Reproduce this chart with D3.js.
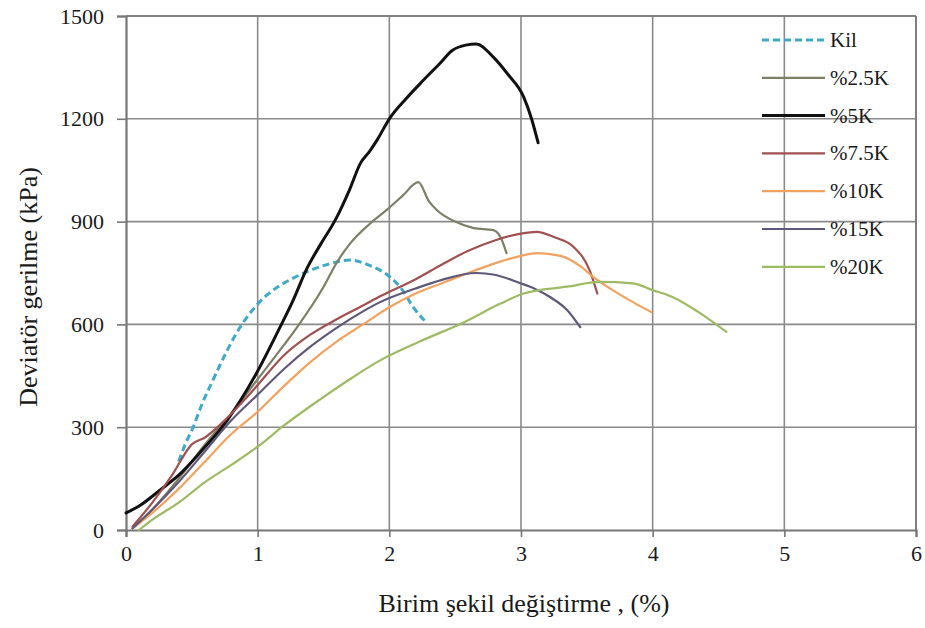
<!DOCTYPE html>
<html>
<head>
<meta charset="utf-8">
<script src="https://cdn.jsdelivr.net/npm/d3@7"></script>
<style>
  body { margin: 0; background: #fff; }
  svg text { font-family: "Liberation Serif", "Times New Roman", Times, serif; fill: #1a1a1a; }
</style>
</head>
<body>
<svg id="chart" width="925" height="628"></svg>
<script>
// strain (%) / deviator stress (kPa)
var kil = [[0.4,200],[0.45,250],[0.51,300],[0.58,370],[0.66,437],[0.75,510],[0.84,575],[0.99,655],[1.1,695],[1.27,735],[1.45,765],[1.6,782],[1.7,788],[1.85,772],[2.0,740],[2.1,700],[2.18,651],[2.27,610]];
var k2_5 = [[0.05,5],[0.2,60],[0.4,150],[0.6,250],[0.8,340],[1.0,440],[1.2,540],[1.3,592],[1.5,709],[1.6,780],[1.7,835],[1.85,893],[1.98,934],[2.1,975],[2.22,1015],[2.3,960],[2.36,934],[2.5,900],[2.64,881],[2.79,875],[2.85,850],[2.89,808]];
var k5 = [[0,50],[0.1,70],[0.26,117],[0.4,160],[0.56,225],[0.77,321],[0.99,457],[1.17,592],[1.27,671],[1.37,760],[1.48,835],[1.59,905],[1.7,995],[1.78,1070],[1.85,1105],[1.91,1140],[2.0,1200],[2.13,1260],[2.26,1313],[2.38,1360],[2.48,1400],[2.58,1415],[2.66,1418],[2.79,1380],[2.9,1330],[3.02,1264],[3.08,1200],[3.13,1130]];
var k7_5 = [[0.05,10],[0.2,80],[0.35,160],[0.5,250],[0.6,270],[0.75,320],[0.9,380],[1.0,423],[1.2,510],[1.4,570],[1.6,615],[1.8,655],[1.93,682],[2.2,732],[2.4,775],[2.6,815],[2.8,845],[3.0,865],[3.12,870],[3.25,855],[3.4,826],[3.52,759],[3.58,690]];
var k10 = [[0.05,5],[0.2,50],[0.4,120],[0.6,200],[0.8,280],[1.0,345],[1.2,420],[1.4,490],[1.6,550],[1.8,600],[2.0,650],[2.2,690],[2.4,720],[2.6,750],[2.8,778],[3.0,800],[3.12,808],[3.3,800],[3.45,770],[3.55,738],[3.73,692],[3.85,665],[3.99,636]];
var k15 = [[0.05,5],[0.2,60],[0.4,140],[0.6,230],[0.8,320],[1.0,395],[1.2,470],[1.4,535],[1.6,590],[1.8,638],[1.93,665],[2.2,705],[2.4,730],[2.66,750],[2.8,745],[2.99,721],[3.1,705],[3.22,680],[3.35,642],[3.45,592]];
var k20 = [[0.1,0],[0.2,30],[0.4,80],[0.6,140],[0.8,190],[1.0,243],[1.2,305],[1.47,380],[1.7,440],[1.93,495],[2.23,550],[2.56,605],[2.84,660],[3.02,690],[3.35,710],[3.6,724],[3.85,720],[4.0,700],[4.15,680],[4.36,633],[4.56,578]];

var seriesNames = ["Kil", "%2.5K", "%5K", "%7.5K", "%10K", "%15K", "%20K"];
var seriesData = [kil, k2_5, k5, k7_5, k10, k15, k20];
var seriesColors = ["#3fa9c9", "#7d7f66", "#111111", "#a0504f", "#f2a25e", "#5f5878", "#9dbb62"];
var seriesWidths = [3, 2.2, 3, 2.2, 2.2, 2.2, 2.2];
var seriesDash = ["7,4", null, null, null, null, null, null];

var xTicks = [0, 1, 2, 3, 4, 5, 6];
var yTicks = [0, 300, 600, 900, 1200, 1500];

var svg = d3.select("#chart");
var margin = {top: 16, right: 9, bottom: 98, left: 126},
    width = +svg.attr("width") - margin.left - margin.right,
    height = +svg.attr("height") - margin.top - margin.bottom;
var g = svg.append("g").attr("transform", "translate(" + margin.left + "," + margin.top + ")");

var x = d3.scaleLinear().domain([0, 6]).range([0, width]);
var y = d3.scaleLinear().domain([0, 1500]).range([height, 0]);

// grid
g.append("g").selectAll("line").data(xTicks.slice(1)).enter().append("line")
    .attr("x1", d => x(d)).attr("x2", d => x(d)).attr("y1", 0).attr("y2", height)
    .attr("stroke", "#8a8a8a").attr("stroke-width", 1.6);
g.append("g").selectAll("line").data(yTicks.slice(1)).enter().append("line")
    .attr("x1", 0).attr("x2", width).attr("y1", d => y(d)).attr("y2", d => y(d))
    .attr("stroke", "#8a8a8a").attr("stroke-width", 1.6);

// axes
var xAxis = g.append("g").attr("transform", "translate(0," + height + ")")
    .call(d3.axisBottom(x).tickValues(xTicks).tickSize(7).tickPadding(8).tickFormat(d3.format("d")));
var yAxis = g.append("g")
    .call(d3.axisLeft(y).tickValues(yTicks).tickSize(9).tickPadding(13).tickFormat(d3.format("d")));
[xAxis, yAxis].forEach(function (a) {
    a.attr("font-family", null).attr("font-size", null);
    a.select(".domain").attr("stroke", "#777").attr("stroke-width", 2.2);
    a.selectAll(".tick line").attr("stroke", "#777").attr("stroke-width", 1.6);
    a.selectAll(".tick text").attr("fill", "#1a1a1a").style("font-size", "22px");
});

// lines
var line = d3.line().x(d => x(d[0])).y(d => y(d[1])).curve(d3.curveMonotoneX);
seriesData.forEach(function (data, i) {
    g.append("path")
        .datum(data)
        .attr("fill", "none")
        .attr("stroke", seriesColors[i])
        .attr("stroke-width", seriesWidths[i])
        .attr("stroke-dasharray", seriesDash[i])
        .attr("stroke-linejoin", "round")
        .attr("stroke-linecap", i === 0 ? "butt" : "round")
        .attr("d", line);
});

// legend
var legend = g.append("g").attr("transform", "translate(636,24)");
seriesNames.forEach(function (name, i) {
    var row = legend.append("g").attr("transform", "translate(0," + (i * 37.8) + ")");
    row.append("line").attr("x1", 0).attr("x2", 63).attr("y1", 0).attr("y2", 0)
        .attr("stroke", seriesColors[i]).attr("stroke-width", seriesWidths[i])
        .attr("stroke-dasharray", seriesDash[i]);
    row.append("text").attr("x", 68).attr("y", 7).text(name)
        .style("font-size", "21px");
});

// frame
g.append("line").attr("x1", 0).attr("x2", width).attr("y1", 0).attr("y2", 0)
    .attr("stroke", "#777").attr("stroke-width", 1.6);
g.append("line").attr("x1", width).attr("x2", width).attr("y1", 0).attr("y2", height)
    .attr("stroke", "#777").attr("stroke-width", 1.6);

// axis titles
svg.append("text")
    .attr("x", 524).attr("y", 612)
    .attr("text-anchor", "middle").style("font-size", "26px")
    .text("Birim şekil değiştirme , (%)");
svg.append("text")
    .attr("transform", "translate(37,287) rotate(-90)")
    .attr("text-anchor", "middle").style("font-size", "26px")
    .text("Deviatör gerilme (kPa)");
</script>
</body>
</html>
